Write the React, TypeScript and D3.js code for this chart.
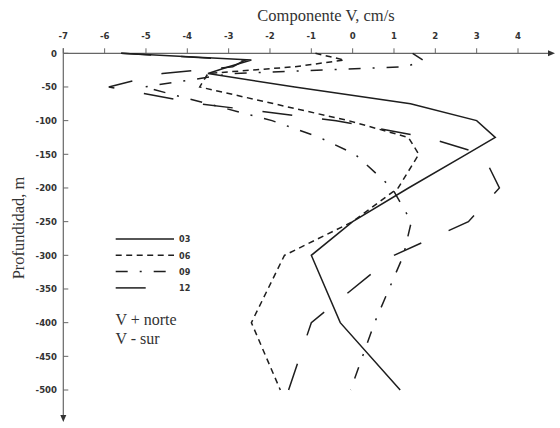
import React from "react";
import * as d3 from "d3";

const depths = [0, -10, -20, -30, -50, -75, -100, -125, -150, -200, -250, -300, -400, -500];
const s03 = [-5.6, -2.45, -3.0, -3.5, -1.4, 1.4, 3.0, 3.45, 2.75, 1.35, 0.0, -1.0, -0.3, 1.15];
const s06 = [-0.9, -0.2, -1.4, -3.5, -3.7, -1.9, -0.1, 1.35, 1.6, 1.1, 0.0, -1.65, -2.45, -1.75];
const s09 = [1.45, 1.7, 1.3, -2.9, -5.05, -3.5, -1.95, -0.8, 0.06, 0.95, 1.42, 1.23, 0.53, -0.05];
const s12 = [-5.6, -2.6, -2.9, -4.6, -5.9, -3.7, -0.4, 1.8, 3.15, 3.55, 2.8, 1.0, -1.0, -1.55];

const seriesNames = ["03", "06", "09", "12"];
const xTicks = [-7, -6, -5, -4, -3, -2, -1, 0, 1, 2, 3, 4];
const yTicks = [0, -50, -100, -150, -200, -250, -300, -350, -400, -450, -500];

const dashes = ["", "6,4.5", "12,12,2,12", "30,30"];

export default function App() {
  const x = d3.scaleLinear().domain([-7, 4]).range([63.3, 518]);
  const y = d3.scaleLinear().domain([0, -500]).range([53.3, 390]);
  const all = [s03, s06, s09, s12];
  const line = d3
    .line<[number, number]>()
    .x((d) => x(d[0]))
    .y((d) => y(d[1]));
  const tickFont = "'Liberation Sans Narrow', 'Arial Narrow', 'DejaVu Sans Condensed', sans-serif";
  const serif = "'Liberation Serif', 'Times New Roman', serif";
  const ink = "#1e1e1e";
  const axisC = "#666";
  const x0 = x(-7);
  const y0 = y(0);
  const xEnd = 555;
  const yEnd = 422;
  return (
    <svg
      width={560}
      height={428}
      style={{ position: "absolute", left: 0, top: 0, background: "#fff" }}
    >
      <rect width={560} height={428} fill="#fff" />
      {/* axes */}
      <line x1={x0} y1={y0} x2={xEnd - 4} y2={y0} stroke={axisC} strokeWidth={1.2} />
      <path d={`M${xEnd},${y0} L${xEnd - 7},${y0 - 3} L${xEnd - 7},${y0 + 3} Z`} fill="#333" />
      <line x1={x0} y1={y0 - 5} x2={x0} y2={yEnd - 4} stroke={axisC} strokeWidth={1.2} />
      <path d={`M${x0},${yEnd} L${x0 - 3},${yEnd - 7} L${x0 + 3},${yEnd - 7} Z`} fill="#333" />
      {xTicks.map((t) => (
        <g key={"xt" + t}>
          <line x1={x(t)} y1={y0 - 5} x2={x(t)} y2={y0} stroke={axisC} strokeWidth={1} />
          <text
            x={x(t)}
            y={38.5}
            textAnchor="middle"
            fontFamily={tickFont}
            fontWeight="bold"
            fontSize={9.5}
            fill="#333"
          >
            {t}
          </text>
        </g>
      ))}
      {yTicks.map((t) => (
        <g key={"yt" + t}>
          <line x1={x0} y1={y(t)} x2={x0 + 5} y2={y(t)} stroke={axisC} strokeWidth={1} />
          <text
            x={57}
            y={y(t) + 3.3}
            textAnchor="end"
            fontFamily={tickFont}
            fontWeight="bold"
            fontSize={9.5}
            fill="#333"
          >
            {t}
          </text>
        </g>
      ))}
      <text x={326} y={20.5} textAnchor="middle" fontFamily={serif} fontSize={16.5} fill="#333">
        Componente V, cm/s
      </text>
      <text
        transform={`translate(24,228) rotate(-90)`}
        textAnchor="middle"
        fontFamily={serif}
        fontSize={16.5}
        fill="#333"
      >
        Profundidad, m
      </text>
      {/* series */}
      {all.map((s, i) => (
        <path
          key={"s" + i}
          d={line(s.map((v, j) => [v, depths[j]] as [number, number])) || ""}
          fill="none"
          stroke={ink}
          strokeWidth={1.5}
          strokeDasharray={dashes[i] || undefined}
        />
      ))}
      {/* legend */}
      {seriesNames.map((n, i) => (
        <g key={"lg" + n}>
          <line
            x1={115.7}
            x2={174}
            y1={239 + i * 16.3}
            y2={239 + i * 16.3}
            stroke={ink}
            strokeWidth={1.5}
            strokeDasharray={dashes[i] || undefined}
          />
          <text
            x={179}
            y={239 + i * 16.3 + 3.3}
            fontFamily={tickFont}
            fontWeight="bold"
            fontSize={9}
            fill="#333"
          >
            {n}
          </text>
        </g>
      ))}
      <text x={115.5} y={325} fontFamily={serif} fontSize={16} fill="#333">
        V + norte
      </text>
      <text x={115.5} y={344} fontFamily={serif} fontSize={16} fill="#333">
        V - sur
      </text>
    </svg>
  );
}
